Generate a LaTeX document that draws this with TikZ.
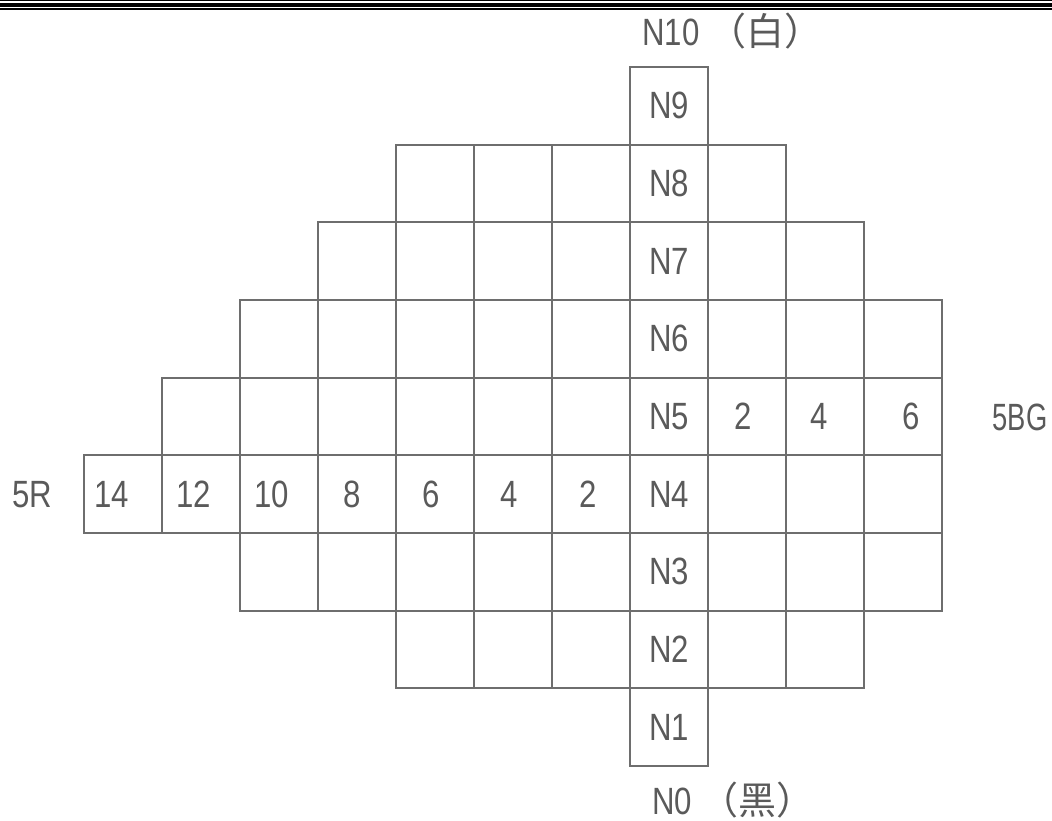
\documentclass[tikz,border=0pt]{standalone}
\usepackage{fontspec}
\setmainfont{Liberation Sans}[FakeStretch=0.82]
\newfontfamily\narrowfont{Liberation Sans}[FakeStretch=0.72]
\newfontfamily\cjk{Noto Sans CJK SC}
\definecolor{gridgray}{HTML}{6E6E6E}
\definecolor{textgray}{HTML}{5A5A5A}
\begin{document}
\begin{tikzpicture}[x=1pt,y=-1pt,
  cell/.style={draw=gridgray,line width=1.8pt,rectangle,minimum width=78pt,minimum height=77.67pt,inner sep=0pt},
  lbl/.style={text=textgray,font=\fontsize{38}{42}\selectfont,inner sep=0pt},
  rule/.style={draw=black}]
\useasboundingbox (0,0) rectangle (1052,821);
% top rules
\coordinate (r1a) at (0,0.9); \coordinate (r1b) at (1052,0.9);
\coordinate (r2a) at (0,5); \coordinate (r2b) at (1052,5);
\coordinate (r3a) at (0,9.4); \coordinate (r3b) at (1052,9.4);
\draw[rule,line width=1.1pt] (r1a) -- (r1b);
\draw[rule,line width=3.5pt] (r2a) -- (r2b);
\draw[rule,line width=2pt] (r3a) -- (r3b);
% grid cells
\foreach \r/\a/\b in {9/0/0,8/-3/1,7/-4/2,6/-5/3,5/-6/3,4/-7/3,3/-5/3,2/-3/2,1/0/0}{
  \foreach \c in {\a,...,\b}{
    \node[cell] (c\r_\c) at ({669+78*\c},{67+(9-\r)*77.67+38.83}) {};
  }
  \node[lbl] (n\r) at (c\r_0) {N\r};
}
% chroma numbers (red side)
\foreach \c/\dx in {-7/-11,-6/-7,-5/-7,-4/-5,-3/-4,-2/-4,-1/-3}{
  \pgfmathtruncatemacro{\v}{-2*\c}
  \node[lbl] (h\c) at ([xshift=\dx pt]c4_\c) {\v};
}
% chroma numbers (blue-green side)
\foreach \c/\dx in {1/-4,2/-6,3/8}{
  \pgfmathtruncatemacro{\v}{2*\c}
  \node[lbl] (g\c) at ([xshift=\dx pt]c5_\c) {\v};
}
% hue labels
\node[lbl] (hueR) at (32,495) {5R};
\node[lbl,font=\narrowfont\fontsize{38}{42}\selectfont] (hueBG) at (1020,417) {5BG};
% poles
\node[lbl,anchor=west] (white) at (642,31.5) {N10 \cjk（白）};
\node[lbl,anchor=west] (black) at (652,800) {N0 \cjk（黑）};
\end{tikzpicture}
\end{document}
